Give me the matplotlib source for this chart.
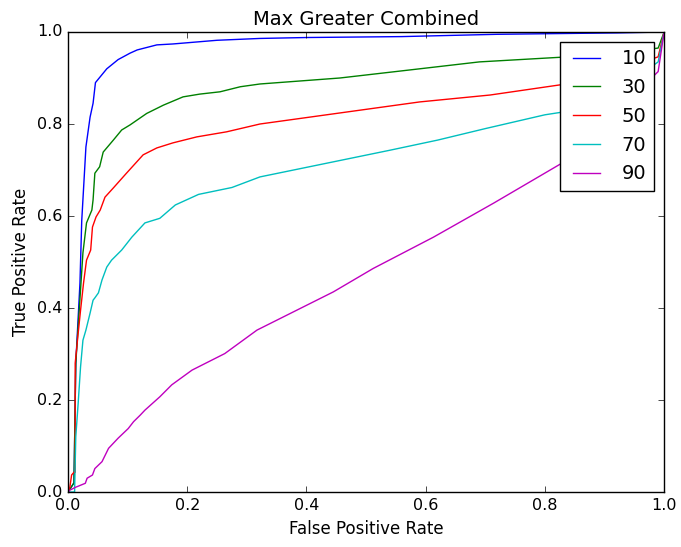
import matplotlib
matplotlib.use("Agg")
import matplotlib.pyplot as plt

plt.style.use('classic')

labels = ['10', '30', '50', '70', '90']

fpr_10 = [0.0, 0.010, 0.013, 0.020, 0.023, 0.030, 0.037, 0.042, 0.046, 0.065, 0.084, 0.104,
          0.116, 0.149, 0.176, 0.25, 0.322, 0.40, 0.56, 0.72, 0.85, 0.92, 1.0]
tpr_10 = [0.0, 0.02, 0.28, 0.454, 0.59, 0.75, 0.815, 0.845, 0.89, 0.92, 0.94, 0.954,
          0.961, 0.972, 0.974, 0.982, 0.986, 0.988, 0.99, 0.995, 0.997, 0.998, 1.0]

fpr_30 = [0.0, 0.010, 0.013, 0.025, 0.031, 0.040, 0.042, 0.045, 0.053, 0.059, 0.076, 0.090,
          0.104, 0.132, 0.160, 0.193, 0.221, 0.255, 0.289, 0.322, 0.456, 0.59, 0.69, 0.825,
          0.90, 0.99, 1.0]
tpr_30 = [0.0, 0.02, 0.28, 0.52, 0.585, 0.613, 0.635, 0.693, 0.707, 0.739, 0.765, 0.787,
          0.798, 0.823, 0.841, 0.859, 0.865, 0.870, 0.881, 0.887, 0.90, 0.92, 0.935, 0.945,
          0.952, 0.965, 1.0]

fpr_50 = [0.0, 0.003, 0.006, 0.010, 0.012, 0.012, 0.017, 0.021, 0.026, 0.031, 0.038, 0.041,
          0.047, 0.054, 0.062, 0.076, 0.098, 0.126, 0.149, 0.176, 0.216, 0.266, 0.322, 0.456,
          0.59, 0.708, 0.825, 0.90, 0.99, 1.0]
tpr_50 = [0.0, 0.01, 0.037, 0.043, 0.043, 0.28, 0.345, 0.395, 0.454, 0.504, 0.526, 0.576,
          0.598, 0.613, 0.641, 0.661, 0.693, 0.733, 0.748, 0.759, 0.772, 0.783, 0.80, 0.824,
          0.848, 0.863, 0.885, 0.905, 0.946, 1.0]

fpr_70 = [0.0, 0.011, 0.013, 0.017, 0.021, 0.025, 0.030, 0.037, 0.042, 0.045, 0.051, 0.057,
          0.065, 0.073, 0.090, 0.107, 0.129, 0.154, 0.180, 0.219, 0.275, 0.322, 0.540, 0.62,
          0.70, 0.80, 0.83, 0.92, 0.99, 1.0]
tpr_70 = [0.0, 0.0, 0.12, 0.193, 0.272, 0.33, 0.352, 0.389, 0.417, 0.422, 0.433, 0.461,
          0.489, 0.504, 0.526, 0.554, 0.585, 0.595, 0.624, 0.647, 0.662, 0.685, 0.743, 0.765,
          0.79, 0.82, 0.826, 0.87, 0.935, 1.0]

fpr_90 = [0.0, 0.003, 0.012, 0.029, 0.032, 0.041, 0.045, 0.057, 0.068, 0.084, 0.101, 0.110,
          0.121, 0.129, 0.154, 0.174, 0.208, 0.263, 0.317, 0.445, 0.512, 0.613, 0.714,
          0.826, 0.90, 0.99, 1.0]
tpr_90 = [0.0, 0.004, 0.01, 0.019, 0.03, 0.037, 0.051, 0.066, 0.095, 0.117, 0.138, 0.153,
          0.167, 0.178, 0.207, 0.233, 0.265, 0.301, 0.352, 0.435, 0.486, 0.554, 0.628,
          0.713, 0.80, 0.914, 1.0]

curves = [(fpr_10, tpr_10), (fpr_30, tpr_30), (fpr_50, tpr_50), (fpr_70, tpr_70), (fpr_90, tpr_90)]
colors = ['b', 'g', 'r', 'c', 'm']

fig = plt.figure(figsize=(6.81, 5.47), dpi=100)
ax = fig.add_axes([0.0999, 0.1005, 0.8753, 0.841])

for (fx, ty), lab, c in zip(curves, labels, colors):
    ax.plot(fx, ty, color=c, lw=1.0, label=lab)

ax.set_xlim(0, 1)
ax.set_ylim(0, 1)
ax.set_xticks([0.0, 0.2, 0.4, 0.6, 0.8, 1.0])
ax.set_yticks([0.0, 0.2, 0.4, 0.6, 0.8, 1.0])
ax.tick_params(labelsize=11.5)
ax.set_xlabel('False Positive Rate', fontsize=12)
ax.set_ylabel('True Positive Rate', fontsize=12)
ax.set_title('Max Greater Combined', fontsize=14)
ax.legend(loc='upper right', fontsize=14, borderaxespad=0.5)

fig.savefig('out.png', dpi=100, facecolor='white')
